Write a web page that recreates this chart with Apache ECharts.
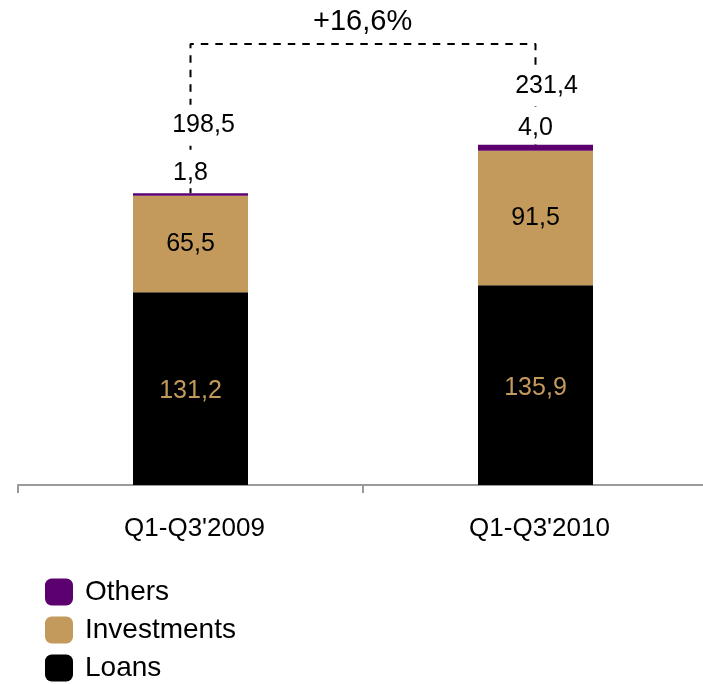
<!DOCTYPE html>
<html>
<head>
<meta charset="utf-8">
<script src="https://cdn.jsdelivr.net/npm/echarts@6/dist/echarts.min.js"></script>
<style>
html,body{margin:0;padding:0;background:#fff;overflow:hidden;}
#main{width:708px;height:684px;}
</style>
</head>
<body>
<div id="main"></div>
<script>
const categories = ["Q1-Q3'2009", "Q1-Q3'2010"];
const loans = [131.2, 135.9];
const investments = [65.5, 91.5];
const others = [1.8, 4.0];
const totals = [198.5, 231.4];
const growthLabel = "+16,6%";
const bracketLevel = 300;

const FONT = "'Liberation Sans', Arial, sans-serif";
const fmt = v => v.toFixed(1).replace('.', ',');

const chart = echarts.init(document.getElementById('main'), null, {renderer: 'canvas'});

const totalOffsets = [[13, -68], [11, -59]];
const otherDistances = [5, 1];

const option = {
  animation: false,
  backgroundColor: '#fff',
  textStyle: {fontFamily: FONT},
  grid: {left: 18, right: 0, top: 44, bottom: 199, containLabel: false},
  legend: {
    orient: 'vertical',
    left: 45,
    top: 578,
    padding: 0,
    itemWidth: 28,
    itemHeight: 27,
    itemGap: 10,
    icon: 'roundRect',
    data: ['Others', 'Investments', 'Loans'],
    textStyle: {fontSize: 28, lineHeight: 27, color: '#000', fontFamily: FONT, padding: [0, 0, 0, 7]}
  },
  xAxis: {
    type: 'category',
    data: categories,
    axisLine: {lineStyle: {color: '#9a9a9a', width: 2}},
    axisTick: {show: true, length: 8, lineStyle: {color: '#9a9a9a', width: 2}},
    axisLabel: {fontSize: 26, color: '#000', margin: 31, fontFamily: FONT, padding: [0, 0, 0, 8]}
  },
  yAxis: {type: 'value', min: 0, max: 300, show: false, splitLine: {show: false}},
  graphic: [{
    type: 'text',
    left: 363 - 50,
    top: 7,
    style: {text: growthLabel, font: '29px ' + FONT, fill: '#000', width: 100, align: 'center'}
  }],
  series: [
    {
      name: 'Loans', type: 'bar', stack: 'total', barWidth: 115,
      itemStyle: {color: '#000'},
      label: {show: true, position: 'inside', offset: [0, 3], fontSize: 25, color: '#C39A5B', fontFamily: FONT, formatter: p => fmt(p.value)},
      data: loans
    },
    {
      name: 'Investments', type: 'bar', stack: 'total', barWidth: 115,
      itemStyle: {color: '#C39A5B'},
      label: {show: true, position: 'inside', fontSize: 25, color: '#000', fontFamily: FONT, formatter: p => fmt(p.value)},
      data: investments
    },
    {
      name: 'Others', type: 'bar', stack: 'total', barWidth: 115,
      itemStyle: {color: '#5B006E'},
      z: 5,
      label: {show: true, position: 'top', distance: 5, fontSize: 25, color: '#000', fontFamily: FONT,
        backgroundColor: '#fff', padding: [9, 4, 3, 4], formatter: p => fmt(p.value)},
      data: others.map((v, i) => ({value: v, label: {distance: otherDistances[i]}}))
    },
    {
      name: 'bracket', type: 'line', z: 3,
      symbol: 'none', silent: true,
      lineStyle: {color: '#000', width: 2, type: [7.5, 7]},
      data: [[0, totals[0]], [0, bracketLevel], [1, bracketLevel], [1, totals[1]]]
    },
    {
      name: 'totals', type: 'scatter', z: 6, symbolSize: 0, silent: true,
      itemStyle: {opacity: 1, color: '#000'},
      label: {show: true, position: 'inside', fontSize: 25, color: '#000', fontFamily: FONT,
        backgroundColor: '#fff', padding: [8, 5, 8, 5], formatter: p => fmt(p.value[1])},
      data: totals.map((t, i) => ({value: [i, t], label: {offset: totalOffsets[i]}}))
    }
  ]
};
chart.setOption(option);
</script>
</body>
</html>
